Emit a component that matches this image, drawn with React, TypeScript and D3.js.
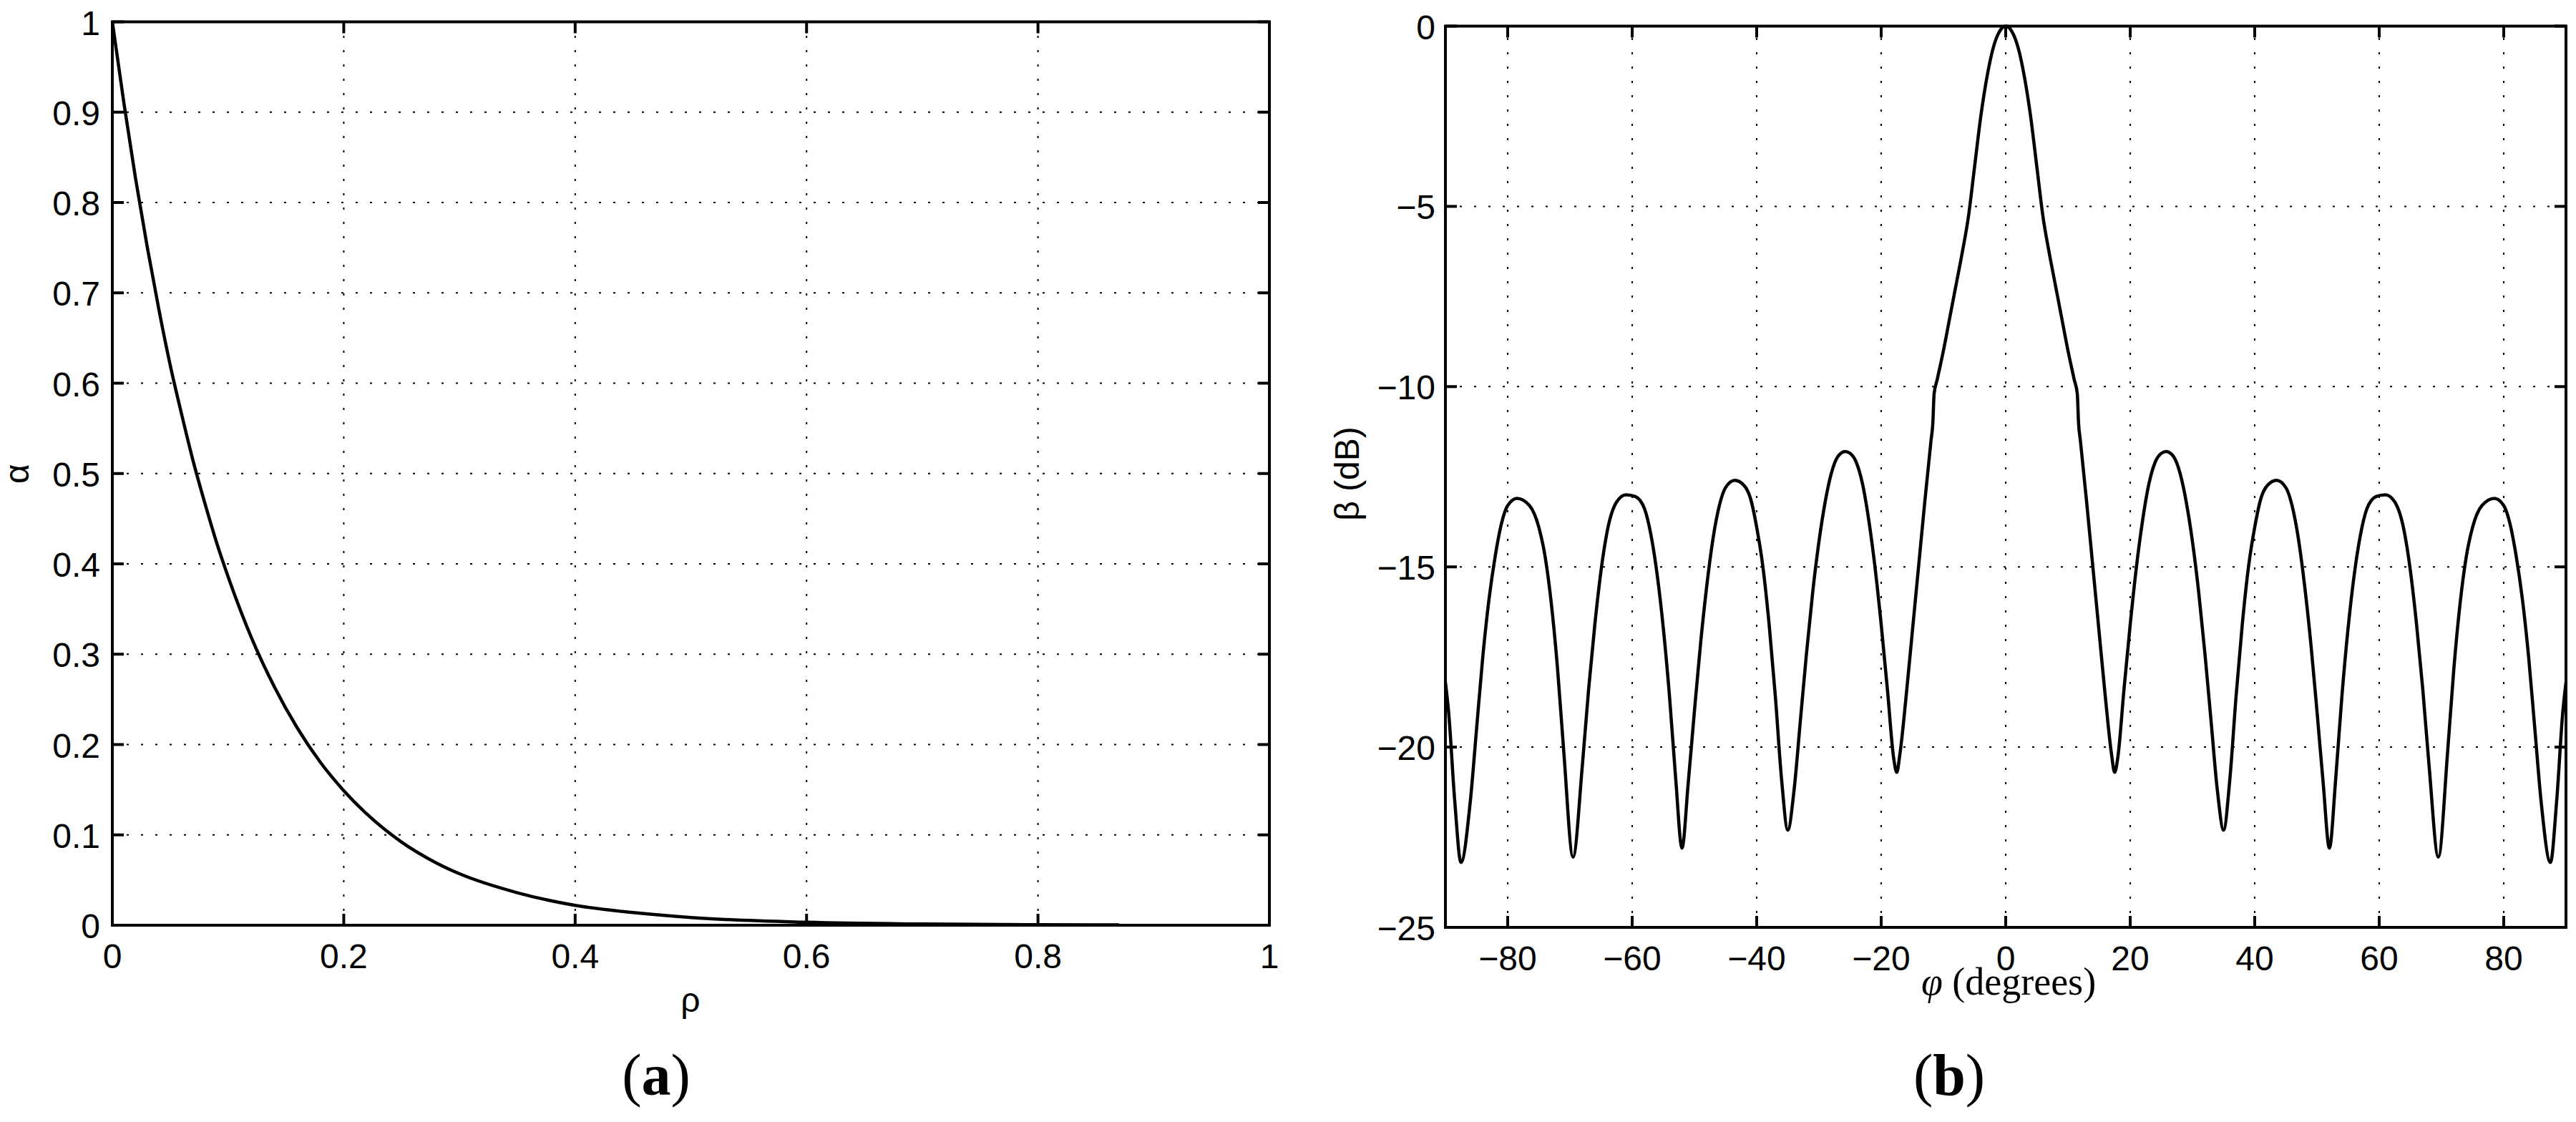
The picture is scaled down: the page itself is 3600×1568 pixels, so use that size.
import React from "react";
import * as d3 from "d3";

// ---------- data (a) ----------
const RHO = [0, 0.01, 0.02, 0.03, 0.04, 0.05, 0.06, 0.07, 0.08, 0.09, 0.1, 0.12, 0.14, 0.16, 0.18, 0.2, 0.22, 0.25, 0.28, 0.3, 0.35, 0.4, 0.45, 0.5, 0.6, 0.7, 0.8, 0.87];
const ALPHA = [1, 0.91, 0.827, 0.752, 0.683, 0.62, 0.565, 0.513, 0.467, 0.424, 0.386, 0.319, 0.264, 0.218, 0.18, 0.149, 0.123, 0.092, 0.069, 0.057, 0.036, 0.022, 0.014, 0.0085, 0.0033, 0.0013, 0.0005, 0.0003];
const RHO_TICKS = [0, 0.2, 0.4, 0.6, 0.8, 1];
const RHO_LABELS = ["0", "0.2", "0.4", "0.6", "0.8", "1"];
const ALPHA_TICKS = [0, 0.1, 0.2, 0.3, 0.4, 0.5, 0.6, 0.7, 0.8, 0.9, 1];
const ALPHA_LABELS = ["0", "0.1", "0.2", "0.3", "0.4", "0.5", "0.6", "0.7", "0.8", "0.9", "1"];

// ---------- data (b) ----------
const PHI = [
  -90, -89.5, -88.5, -87.5, -86, -85, -84, -83, -82, -81, -80, -78.5, -76.5, -75, -74, -73, -72, -71, -69.5,
  -68, -67, -66, -65, -64, -62.5, -61, -59.5, -58, -57, -56, -55, -54, -53, -52, -51, -50, -49, -48, -47, -46,
  -45, -43.5, -42, -41, -40, -39, -38, -37, -36, -35, -34, -33, -32, -31, -30, -29, -28, -27, -25.8, -25, -24,
  -23, -22, -21, -20, -19, -18, -17.5, -17, -16, -15, -14, -13, -12, -11.7, -11.5, -11, -10, -9, -8, -7, -6,
  -5, -4, -3, -2, -1, 0,
  1, 2, 3, 4, 5, 6, 7, 8, 9, 10, 11, 11.5, 11.7, 12, 13, 14, 15, 16, 17, 17.5, 18, 19, 20, 21, 22, 23, 24, 25,
  25.8, 27, 28, 29, 30, 31, 32, 33, 34, 35, 36, 37, 38, 39, 40, 41, 42, 43.5, 45, 46, 47, 48, 49, 50, 51, 52,
  53, 54, 55, 56, 57, 58, 59.5, 61, 62.5, 64, 65, 66, 67, 68, 69.5, 71, 72, 73, 74, 75, 76.5, 78.5, 80, 81, 82,
  83, 84, 85, 86, 87.5, 88.5, 89.5, 90,
];
const BETA = [
  -18.2, -19.0, -21.5, -23.2, -21.5, -19.5, -17.5, -15.9, -14.7, -13.8, -13.3, -13.1, -13.3, -13.9, -14.7, -16.0, -17.8, -20.1, -23.05,
  -20.5, -18.4, -16.6, -15.1, -14.0, -13.2, -13.0, -13.05, -13.4, -14.1, -15.2, -16.7, -18.6, -20.9, -22.8, -21.0, -19.0, -17.1, -15.5, -14.2, -13.3,
  -12.8, -12.6, -12.75, -13.1, -13.9, -15.0, -16.6, -18.6, -20.9, -22.3, -21.2, -19.3, -17.4, -15.7, -14.3, -13.2, -12.4, -11.95, -11.8, -11.85, -12.1,
  -12.7, -13.7, -15.0, -16.6, -18.4, -20.3, -20.7, -20.2, -18.6, -16.8, -15.0, -13.2, -11.5, -11.0, -10.2, -9.8, -9.0, -8.1, -7.2, -6.3, -5.3,
  -3.9, -2.5, -1.4, -0.6, -0.15, 0,
  -0.15, -0.6, -1.4, -2.5, -3.9, -5.3, -6.3, -7.2, -8.1, -9.0, -9.8, -10.2, -11.0, -11.5, -13.2, -15.0, -16.8, -18.6, -20.2, -20.7, -20.3, -18.4, -16.6, -15.0, -13.7, -12.7, -12.1, -11.85,
  -11.8, -11.95, -12.4, -13.2, -14.3, -15.7, -17.4, -19.3, -21.2, -22.3, -20.9, -18.6, -16.6, -15.0, -13.9, -13.1, -12.75, -12.6, -12.8, -13.3, -14.2, -15.5, -17.1, -19.0, -21.0, -22.8,
  -20.9, -18.6, -16.7, -15.2, -14.1, -13.4, -13.05, -13.0, -13.2, -14.0, -15.1, -16.6, -18.4, -20.5, -23.05, -20.1, -17.8, -16.0, -14.7, -13.9, -13.3, -13.1, -13.3, -13.8, -14.7,
  -15.9, -17.5, -19.5, -21.5, -23.2, -21.5, -19.0, -18.2,
];
const PHI_TICKS = [-80, -60, -40, -20, 0, 20, 40, 60, 80];
const PHI_LABELS = ["\u221280", "\u221260", "\u221240", "\u221220", "0", "20", "40", "60", "80"];
const BETA_TICKS = [-25, -20, -15, -10, -5, 0];
const BETA_LABELS = ["\u221225", "\u221220", "\u221215", "\u221210", "\u22125", "0"];

const SANS = "'Liberation Sans', Arial, Helvetica, sans-serif";
const SERIF = "'Liberation Serif', 'Times New Roman', serif";
const TICK_LEN = 16;
const AX_W = 4;

type PanelProps = {
  l: number; t: number; r: number; b: number;
  xDomain: [number, number]; yDomain: [number, number];
  xTicks: number[]; xLabels: string[]; yTicks: number[]; yLabels: string[];
  xs: number[]; ys: number[];
  yLabelRight: number;
};

function Panel(p: PanelProps) {
  const x = d3.scaleLinear().domain(p.xDomain).range([p.l, p.r]);
  const y = d3.scaleLinear().domain(p.yDomain).range([p.b, p.t]);
  const pts: [number, number][] = p.xs.map((v, i) => [v, p.ys[i]]);
  const line = d3
    .line<[number, number]>()
    .x((d) => x(d[0]))
    .y((d) => y(d[1]))
    .curve(d3.curveMonotoneX);
  const grid = { stroke: "#000", strokeWidth: 2, strokeDasharray: "3,17" };
  return (
    <g>
      {p.xTicks.map((v, i) => (
        <line key={"gx" + i} x1={x(v)} x2={x(v)} y1={p.b} y2={p.t} {...grid} />
      ))}
      {p.yTicks.map((v, i) => (
        <line key={"gy" + i} x1={p.l} x2={p.r} y1={y(v)} y2={y(v)} {...grid} />
      ))}
      <path d={line(pts) || ""} fill="none" stroke="#000" strokeWidth={4.5} strokeLinejoin="round" />
      {p.xTicks.map((v, i) => (
        <g key={"tx" + i}>
          <line x1={x(v)} x2={x(v)} y1={p.b} y2={p.b - TICK_LEN} stroke="#000" strokeWidth={AX_W} />
          <line x1={x(v)} x2={x(v)} y1={p.t} y2={p.t + TICK_LEN} stroke="#000" strokeWidth={AX_W} />
          <text x={x(v)} y={p.b + 60} textAnchor="middle" fontFamily={SANS} fontSize={48}>
            {p.xLabels[i]}
          </text>
        </g>
      ))}
      {p.yTicks.map((v, i) => (
        <g key={"ty" + i}>
          <line x1={p.l} x2={p.l + TICK_LEN} y1={y(v)} y2={y(v)} stroke="#000" strokeWidth={AX_W} />
          <line x1={p.r} x2={p.r - TICK_LEN} y1={y(v)} y2={y(v)} stroke="#000" strokeWidth={AX_W} />
          <text x={p.yLabelRight} y={y(v) + 18} textAnchor="end" fontFamily={SANS} fontSize={48}>
            {p.yLabels[i]}
          </text>
        </g>
      ))}
      <rect x={p.l} y={p.t} width={p.r - p.l} height={p.b - p.t} fill="none" stroke="#000" strokeWidth={AX_W} />
    </g>
  );
}

export default function App() {
  return (
    <svg
      width={3600}
      height={1568}
      viewBox="0 0 3600 1568"
      style={{ position: "absolute", left: 0, top: 0, display: "block", background: "#fff" }}
    >
      <rect x={0} y={0} width={3600} height={1568} fill="#fff" />
      <Panel
        l={157} t={30.5} r={1774} b={1293}
        xDomain={[0, 1]} yDomain={[0, 1]}
        xTicks={RHO_TICKS} xLabels={RHO_LABELS}
        yTicks={ALPHA_TICKS} yLabels={ALPHA_LABELS}
        xs={RHO} ys={ALPHA}
        yLabelRight={140}
      />
      <Panel
        l={2020} t={36.5} r={3586} b={1296}
        xDomain={[-90, 90]} yDomain={[-25, 0]}
        xTicks={PHI_TICKS} xLabels={PHI_LABELS}
        yTicks={BETA_TICKS} yLabels={BETA_LABELS}
        xs={PHI} ys={BETA}
        yLabelRight={2006}
      />
      {/* axis labels (a) */}
      <text x={965} y={1414} textAnchor="middle" fontFamily={SANS} fontSize={48}>ρ</text>
      <text transform="translate(40,662) rotate(-90)" textAnchor="middle" fontFamily={SANS} fontSize={48}>α</text>
      {/* axis labels (b) */}
      <text x={2807} y={1390} textAnchor="middle" fontFamily={SERIF} fontSize={54}>
        <tspan fontStyle="italic">φ</tspan> (degrees)
      </text>
      <text transform="translate(1899,662) rotate(-90)" textAnchor="middle" fontFamily={SANS} fontSize={48}>β (dB)</text>
      {/* subfigure captions */}
      <text x={917} y={1530} textAnchor="middle" fontFamily={SERIF} fontSize={82}>
        (<tspan fontWeight="bold">a</tspan>)
      </text>
      <text x={2724} y={1530} textAnchor="middle" fontFamily={SERIF} fontSize={82}>
        (<tspan fontWeight="bold">b</tspan>)
      </text>
    </svg>
  );
}
